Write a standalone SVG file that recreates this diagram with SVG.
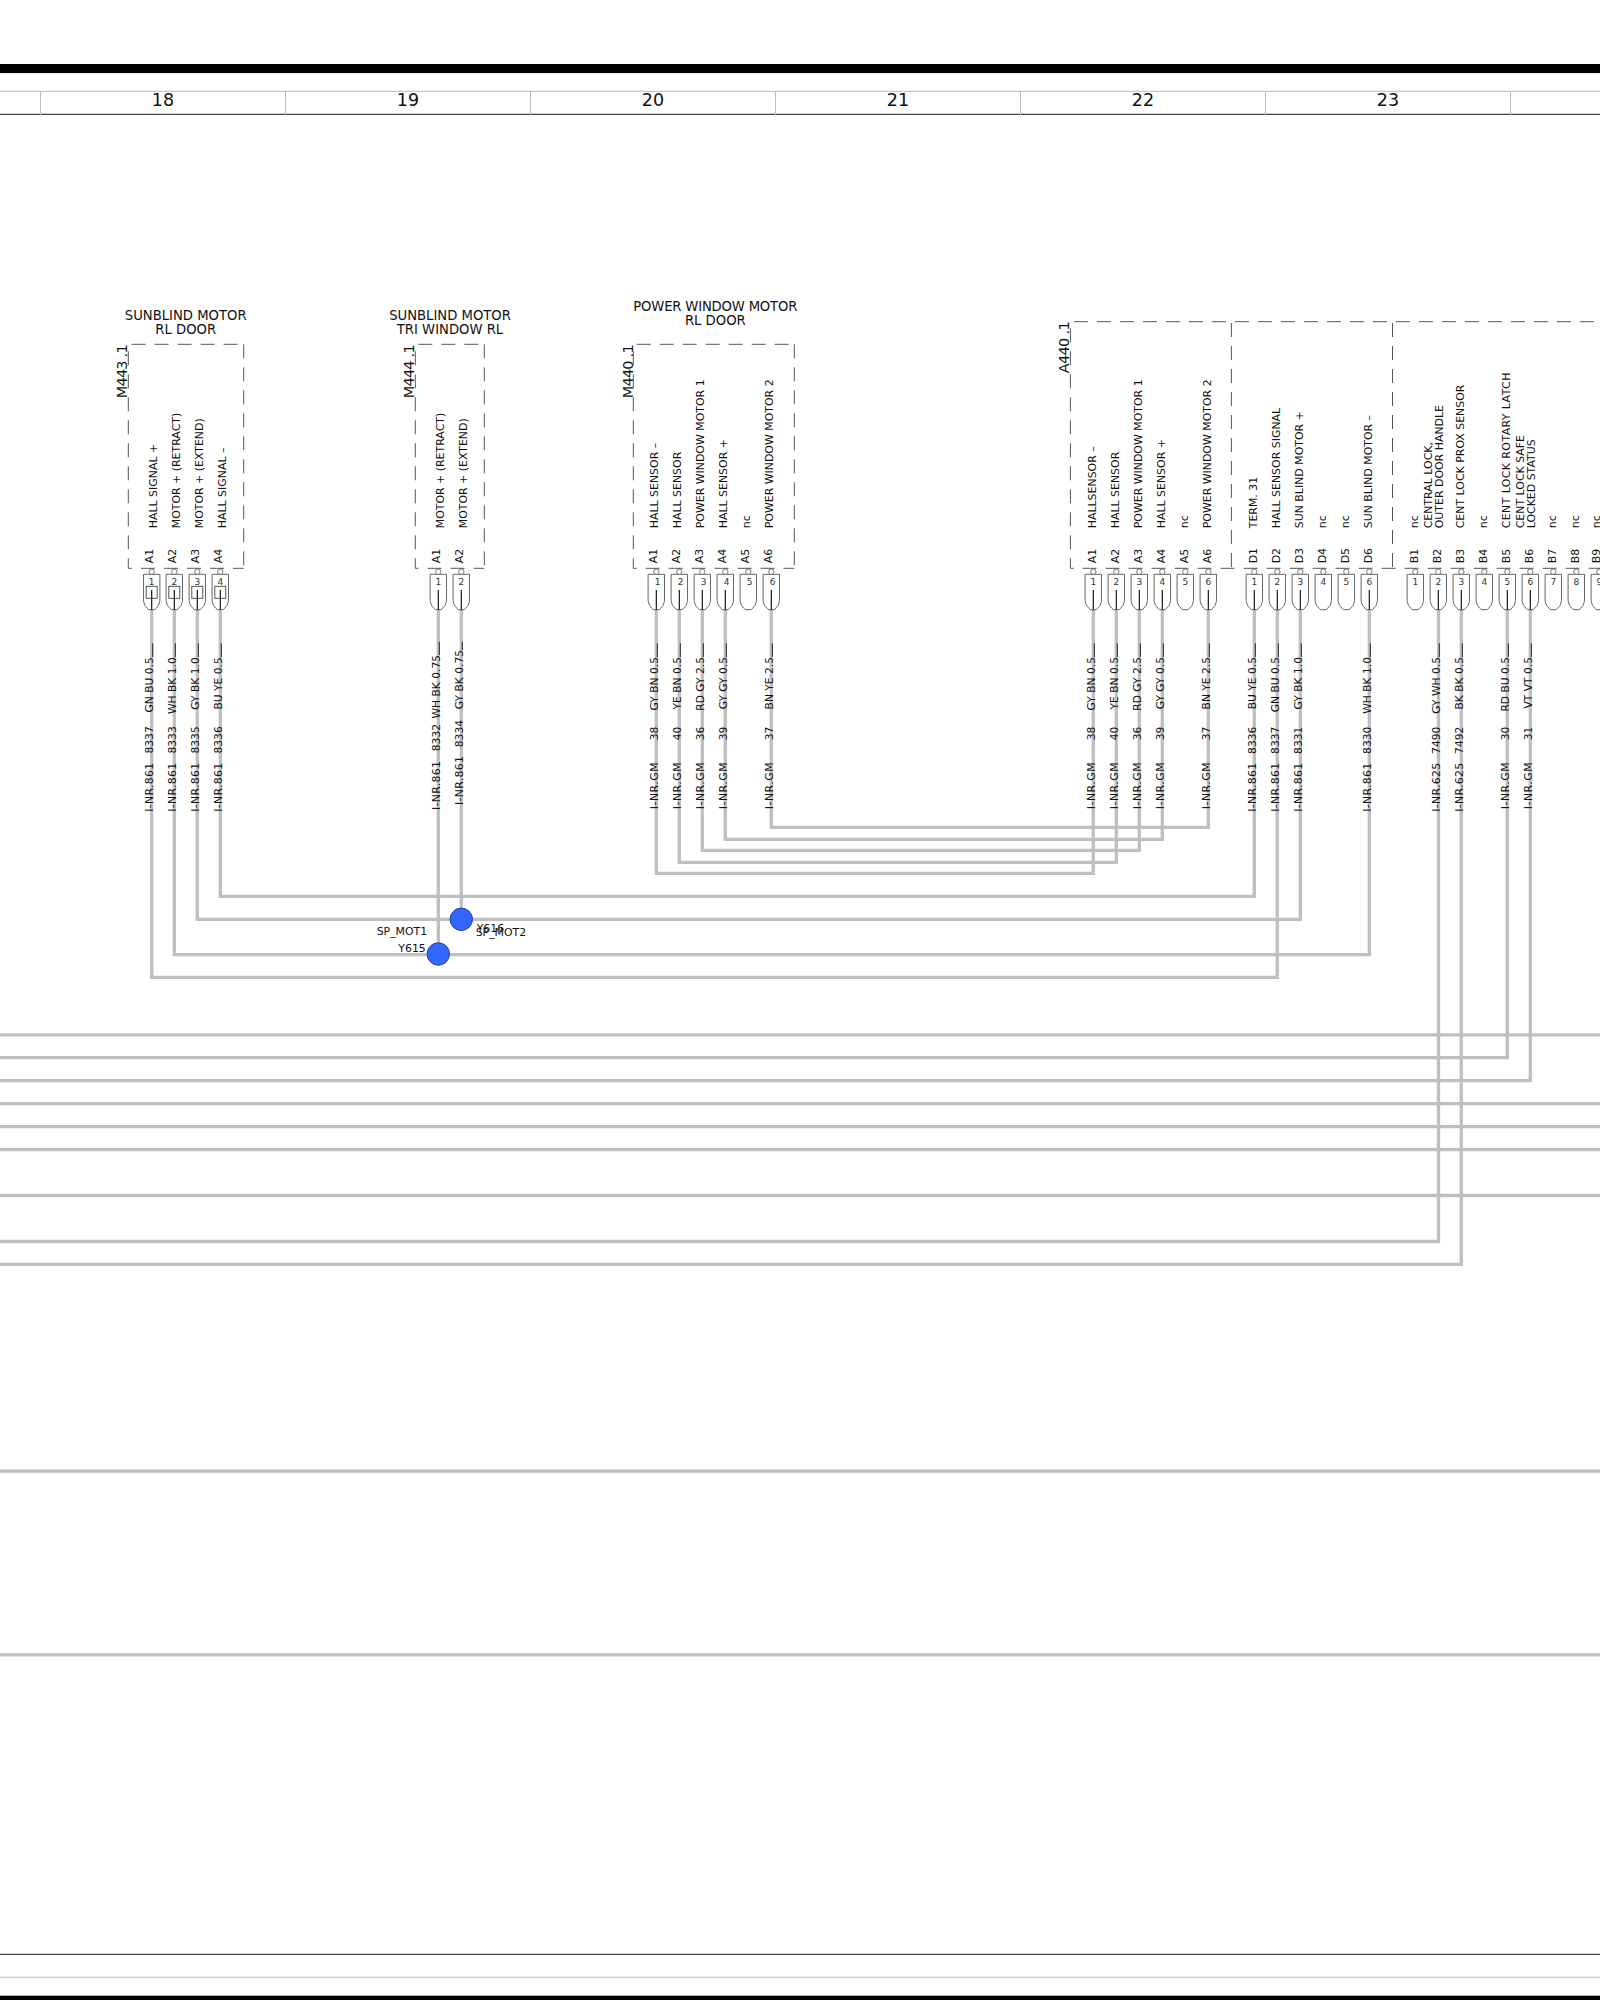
<svg xmlns="http://www.w3.org/2000/svg" width="1600" height="2000" viewBox="0 0 1600 2000">
<style>
text{font-family:"DejaVu Sans","Liberation Sans",sans-serif;fill:#111}
.t{font-size:13.2px;text-anchor:middle}
.r{font-size:14.5px}
.n{font-size:17.5px;text-anchor:middle}
.f{font-size:10.95px}
.e{font-size:10.7px;text-anchor:end}
.c{font-size:9px;text-anchor:middle;fill:#333}
.s{font-size:10.9px}
.w{fill:none;stroke:#bfbfbf;stroke-width:3.3}
.d{fill:none;stroke:#555;stroke-width:1;stroke-dasharray:14 9}
.g{stroke:#bbb;stroke-width:1;fill:none}
.k{stroke:#444;stroke-width:1.3;fill:none}
.cn{fill:#fff;stroke:#555;stroke-width:.9}
.pc{fill:#fff;stroke:#555;stroke-width:.8}
.in{stroke:#000;stroke-width:1.1}
.ti{stroke:#111;stroke-width:.9}
.sq{fill:none;stroke:#444;stroke-width:.9}
.dot{fill:#3366ff;stroke:#24409c;stroke-width:1}
</style>
<defs>
<path id="cb" d="M-8.2 574.3H8.2V600.7Q8.2 605.5 3 609.7H-3Q-8.2 605.5-8.2 600.7Z" class="cn"/>
<circle id="ci" cx="0" cy="571.7" r="2.7" class="pc"/>
<g id="p"><use href="#cb"/><use href="#ci"/></g>
<g id="pw"><use href="#p"/><line y1="590" y2="609.7" class="in"/></g>
<g id="tk"><line x1="1" x2="1" y1="643.3" y2="657" class="ti"/></g>
</defs>
<rect width="1600" height="2000" fill="#fff"/>

<g id="frame">
<rect x="0" y="64" width="1600" height="9" fill="#000"/>
<line x1="0" x2="1600" y1="73.7" y2="73.7" stroke="#ddd" stroke-width=".8"/>
<line x1="0" x2="1600" y1="91.3" y2="91.3" class="g"/>
<line x1="0" x2="1600" y1="114.3" y2="114.3" class="k"/>
<line x1="40.5" x2="40.5" y1="91" y2="115" class="g"/>
<line x1="285.5" x2="285.5" y1="91" y2="115" class="g"/>
<line x1="530.5" x2="530.5" y1="91" y2="115" class="g"/>
<line x1="775.5" x2="775.5" y1="91" y2="115" class="g"/>
<line x1="1020.5" x2="1020.5" y1="91" y2="115" class="g"/>
<line x1="1265.5" x2="1265.5" y1="91" y2="115" class="g"/>
<line x1="1510.5" x2="1510.5" y1="91" y2="115" class="g"/>
<text class="n" x="163" y="105.7">18</text>
<text class="n" x="408" y="105.7">19</text>
<text class="n" x="653" y="105.7">20</text>
<text class="n" x="898" y="105.7">21</text>
<text class="n" x="1143" y="105.7">22</text>
<text class="n" x="1388" y="105.7">23</text>
<line x1="0" x2="1600" y1="1954.3" y2="1954.3" class="k"/>
<line x1="0" x2="1600" y1="1977.3" y2="1977.3" class="g"/>
<rect x="0" y="1995.7" width="1600" height="4.3" fill="#000"/>
</g>

<g id="connectors">
<path class="w" d="M151.7 610V977.3H1277.3V610"/>
<path class="w" d="M174.3 610V954.7H1369.3V610"/>
<path class="w" d="M197.3 610V919.3H1300.3V610"/>
<path class="w" d="M220.3 610V896.3H1254.3V610"/>
<path class="w" d="M438.3 610V954"/>
<path class="w" d="M461.3 610V919"/>
<path class="w" d="M656.3 610V873.3H1093.3V610"/>
<path class="w" d="M679.3 610V862.3H1116.3V610"/>
<path class="w" d="M702.3 610V850.3H1139.3V610"/>
<path class="w" d="M725.3 610V839.3H1162.3V610"/>
<path class="w" d="M771.3 610V827.3H1208.3V610"/>
<path class="w" d="M1438.5 610V1241.5H0"/>
<path class="w" d="M1461.3 610V1264.4H0"/>
<path class="w" d="M1507.3 610V1057.7H0"/>
<path class="w" d="M1530.3 610V1080.7H0"/>
<path class="w" d="M0 1034.8H1600"/>
<path class="w" d="M0 1103.7H1600"/>
<path class="w" d="M0 1126.6H1600"/>
<path class="w" d="M0 1149.6H1600"/>
<path class="w" d="M0 1195.5H1600"/>
<path class="w" d="M0 1471.1H1600"/>
<path class="w" d="M0 1654.9H1600"/>
</g>

<g id="M443">
<text class="t" x="185.7" y="320">SUNBLIND MOTOR</text>
<text class="t" x="185.7" y="334">RL DOOR</text>
<text class="r" textLength="54" transform="translate(126.7 398.3) rotate(-90)">M443 .1</text>
<line class="d" x1="131.6" x2="243.7" y1="344.3" y2="344.3"/>
<line class="d" x1="128.3" x2="128.3" y1="568.3" y2="344.3" stroke-dashoffset="4"/>
<line class="d" x1="243.7" x2="243.7" y1="344.3" y2="568.3"/>
<line class="d" x1="128.3" x2="243.7" y1="568.3" y2="568.3" stroke-dashoffset="10.3"/>
<text class="f" transform="translate(157.4 528.3) rotate(-90)">HALL SIGNAL +</text>
<text class="f" transform="translate(180 528.3) rotate(-90)">MOTOR + (RETRACT)</text>
<text class="f" transform="translate(203 528.3) rotate(-90)">MOTOR + (EXTEND)</text>
<text class="f" transform="translate(226 528.3) rotate(-90)">HALL SIGNAL –</text>
<text class="f" transform="translate(153.4 563.3) rotate(-90)">A1</text>
<text class="f" transform="translate(176 563.3) rotate(-90)">A2</text>
<text class="f" transform="translate(199 563.3) rotate(-90)">A3</text>
<text class="f" transform="translate(222 563.3) rotate(-90)">A4</text>
<use href="#pw" x="151.7"/><use href="#pw" x="174.3"/><use href="#pw" x="197.3"/><use href="#pw" x="220.3"/>
<rect class="sq" x="146.2" y="586.3" width="11" height="12"/><rect class="sq" x="168.8" y="586.3" width="11" height="12"/><rect class="sq" x="191.8" y="586.3" width="11" height="12"/><rect class="sq" x="214.8" y="586.3" width="11" height="12"/>
<text class="c" x="151.7" y="585.3">1</text><text class="c" x="174.3" y="585.3">2</text><text class="c" x="197.3" y="585.3">3</text><text class="c" x="220.3" y="585.3">4</text>
<use href="#tk" x="151.7"/><use href="#tk" x="174.3"/><use href="#tk" x="197.3"/><use href="#tk" x="220.3"/>
<g>
<text class="f" textLength="49" transform="translate(153.4 811.7) rotate(-90)">I-NR.861</text><text class="e" transform="translate(153.4 726.3) rotate(-90)">8337</text><text class="e" transform="translate(153.4 657.3) rotate(-90)">GN BU 0.5</text>
<text class="f" textLength="49" transform="translate(176 811.7) rotate(-90)">I-NR.861</text><text class="e" transform="translate(176 726.3) rotate(-90)">8333</text><text class="e" transform="translate(176 657.3) rotate(-90)">WH BK 1.0</text>
<text class="f" textLength="49" transform="translate(199 811.7) rotate(-90)">I-NR.861</text><text class="e" transform="translate(199 726.3) rotate(-90)">8335</text><text class="e" transform="translate(199 657.3) rotate(-90)">GY BK 1.0</text>
<text class="f" textLength="49" transform="translate(222 811.7) rotate(-90)">I-NR.861</text><text class="e" transform="translate(222 726.3) rotate(-90)">8336</text><text class="e" transform="translate(222 657.3) rotate(-90)">BU YE 0.5</text>
</g>
</g>

<g id="M444">
<text class="t" x="450" y="320">SUNBLIND MOTOR</text>
<text class="t" x="450" y="334">TRI WINDOW RL</text>
<text class="r" textLength="54" transform="translate(414.3 398.3) rotate(-90)">M444 .1</text>
<line class="d" x1="418.3" x2="484.3" y1="344.3" y2="344.3"/>
<line class="d" x1="415.3" x2="415.3" y1="568.3" y2="344.3" stroke-dashoffset="4"/>
<line class="d" x1="484.3" x2="484.3" y1="344.3" y2="568.3"/>
<line class="d" x1="415.3" x2="484.3" y1="568.3" y2="568.3" stroke-dashoffset="10.7"/>
<text class="f" transform="translate(444 528.3) rotate(-90)">MOTOR + (RETRACT)</text>
<text class="f" transform="translate(467 528.3) rotate(-90)">MOTOR + (EXTEND)</text>
<text class="f" transform="translate(440 563.3) rotate(-90)">A1</text>
<text class="f" transform="translate(463 563.3) rotate(-90)">A2</text>
<use href="#pw" x="438.3"/><use href="#pw" x="461.3"/>
<text class="c" x="438.3" y="585.3">1</text><text class="c" x="461.3" y="585.3">2</text>
<line class="ti" x1="439.3" x2="439.3" y1="641.7" y2="655"/>
<line class="ti" x1="462.3" x2="462.3" y1="641.7" y2="650"/>
<text class="f" textLength="49" transform="translate(440 810) rotate(-90)">I-NR.861</text><text class="e" transform="translate(440 724) rotate(-90)">8332</text><text class="e" transform="translate(440 655) rotate(-90)">WH BK 0.75</text>
<text class="f" textLength="49" transform="translate(463 805) rotate(-90)">I-NR.861</text><text class="e" transform="translate(463 720) rotate(-90)">8334</text><text class="e" transform="translate(463 650) rotate(-90)">GY BK 0.75</text>
</g>

<g id="M440">
<text class="t" x="715.3" y="311" textLength="164">POWER WINDOW MOTOR</text>
<text class="t" x="715.3" y="325">RL DOOR</text>
<text class="r" textLength="54" transform="translate(632.7 398.3) rotate(-90)">M440 .1</text>
<line class="d" x1="636.7" x2="794.3" y1="344.3" y2="344.3"/>
<line class="d" x1="633.3" x2="633.3" y1="568.3" y2="344.3" stroke-dashoffset="4"/>
<line class="d" x1="794.3" x2="794.3" y1="344.3" y2="568.3"/>
<line class="d" x1="633.3" x2="794.3" y1="568.3" y2="568.3" stroke-dashoffset="10.7"/>
<text class="f" transform="translate(658.3 528.3) rotate(-90)">HALL SENSOR –</text>
<text class="f" transform="translate(681.3 528.3) rotate(-90)">HALL SENSOR</text>
<text class="f" transform="translate(704.3 528.3) rotate(-90)">POWER WINDOW MOTOR 1</text>
<text class="f" transform="translate(727.3 528.3) rotate(-90)">HALL SENSOR +</text>
<text class="f" transform="translate(750.3 528.3) rotate(-90)">nc</text>
<text class="f" transform="translate(773.3 528.3) rotate(-90)">POWER WINDOW MOTOR 2</text>
<text class="f" transform="translate(657 563.3) rotate(-90)">A1</text>
<text class="f" transform="translate(680 563.3) rotate(-90)">A2</text>
<text class="f" transform="translate(703 563.3) rotate(-90)">A3</text>
<text class="f" transform="translate(726 563.3) rotate(-90)">A4</text>
<text class="f" transform="translate(749 563.3) rotate(-90)">A5</text>
<text class="f" transform="translate(772 563.3) rotate(-90)">A6</text>
<use href="#pw" x="656.3"/><use href="#pw" x="679.3"/><use href="#pw" x="702.3"/><use href="#pw" x="725.3"/><use href="#p" x="748.3"/><use href="#pw" x="771.3"/>
<text class="c" x="657.5" y="585.3">1</text><text class="c" x="680.5" y="585.3">2</text><text class="c" x="703.5" y="585.3">3</text><text class="c" x="726.5" y="585.3">4</text><text class="c" x="749.5" y="585.3">5</text><text class="c" x="772.5" y="585.3">6</text>
<use href="#tk" x="656.3"/><use href="#tk" x="679.3"/><use href="#tk" x="702.3"/><use href="#tk" x="725.3"/><use href="#tk" x="771.3"/>
<text class="f" textLength="47" transform="translate(658 809.3) rotate(-90)">I-NR.GM</text><text class="e" transform="translate(658 726.7) rotate(-90)">38</text><text class="e" transform="translate(658 657) rotate(-90)">GY BN 0.5</text>
<text class="f" textLength="47" transform="translate(681 809.3) rotate(-90)">I-NR.GM</text><text class="e" transform="translate(681 726.7) rotate(-90)">40</text><text class="e" transform="translate(681 657) rotate(-90)">YE BN 0.5</text>
<text class="f" textLength="47" transform="translate(704 809.3) rotate(-90)">I-NR.GM</text><text class="e" transform="translate(704 726.7) rotate(-90)">36</text><text class="e" transform="translate(704 657) rotate(-90)">RD GY 2.5</text>
<text class="f" textLength="47" transform="translate(727 809.3) rotate(-90)">I-NR.GM</text><text class="e" transform="translate(727 726.7) rotate(-90)">39</text><text class="e" transform="translate(727 657) rotate(-90)">GY GY 0.5</text>
<text class="f" textLength="47" transform="translate(773 809.3) rotate(-90)">I-NR.GM</text><text class="e" transform="translate(773 726.7) rotate(-90)">37</text><text class="e" transform="translate(773 657) rotate(-90)">BN YE 2.5</text>
</g>

<g id="A440">
<text class="r" textLength="52" transform="translate(1069.3 373.3) rotate(-90)">A440 .1</text>
<line class="d" x1="1073.9" x2="1600" y1="321.7" y2="321.7"/>
<line class="d" x1="1070.4" x2="1070.4" y1="568.3" y2="323" stroke-dashoffset="4"/>
<line class="d" x1="1231.4" x2="1231.4" y1="323" y2="568.3"/>
<line class="d" x1="1392.5" x2="1392.5" y1="323" y2="568.3"/>
<line class="d" x1="1070.4" x2="1600" y1="568.3" y2="568.3" stroke-dashoffset="10.8"/>
<text class="f" transform="translate(1096 528.3) rotate(-90)">HALLSENSOR –</text>
<text class="f" transform="translate(1119 528.3) rotate(-90)">HALL SENSOR</text>
<text class="f" transform="translate(1142 528.3) rotate(-90)">POWER WINDOW MOTOR 1</text>
<text class="f" transform="translate(1165 528.3) rotate(-90)">HALL SENSOR +</text>
<text class="f" transform="translate(1188 528.3) rotate(-90)">nc</text>
<text class="f" transform="translate(1211 528.3) rotate(-90)">POWER WINDOW MOTOR 2</text>
<text class="f" transform="translate(1257 528.3) rotate(-90)">TERM. 31</text>
<text class="f" transform="translate(1280 528.3) rotate(-90)">HALL SENSOR SIGNAL</text>
<text class="f" transform="translate(1303 528.3) rotate(-90)">SUN BLIND MOTOR +</text>
<text class="f" transform="translate(1326 528.3) rotate(-90)">nc</text>
<text class="f" transform="translate(1349 528.3) rotate(-90)">nc</text>
<text class="f" transform="translate(1372 528.3) rotate(-90)">SUN BLIND MOTOR –</text>
<text class="f" transform="translate(1418 528.3) rotate(-90)">nc</text>
<text class="f" transform="translate(1432 528.3) rotate(-90)">CENTRAL LOCK,</text>
<text class="f" transform="translate(1442.5 528.3) rotate(-90)">OUTER DOOR HANDLE</text>
<text class="f" transform="translate(1464 528.3) rotate(-90)">CENT LOCK PROX SENSOR</text>
<text class="f" transform="translate(1487 528.3) rotate(-90)">nc</text>
<text class="f" textLength="155.7" transform="translate(1509.6 528.3) rotate(-90)">CENT LOCK ROTARY LATCH</text>
<text class="f" transform="translate(1524 528.3) rotate(-90)">CENT LOCK SAFE</text>
<text class="f" transform="translate(1534.5 528.3) rotate(-90)">LOCKED STATUS</text>
<text class="f" transform="translate(1556 528.3) rotate(-90)">nc</text>
<text class="f" transform="translate(1579 528.3) rotate(-90)">nc</text>
<text class="f" transform="translate(1600 528.3) rotate(-90)">nc</text>
<text class="f" transform="translate(1096.3 563.3) rotate(-90)">A1</text>
<text class="f" transform="translate(1119.3 563.3) rotate(-90)">A2</text>
<text class="f" transform="translate(1142.3 563.3) rotate(-90)">A3</text>
<text class="f" transform="translate(1165.3 563.3) rotate(-90)">A4</text>
<text class="f" transform="translate(1188.3 563.3) rotate(-90)">A5</text>
<text class="f" transform="translate(1211.3 563.3) rotate(-90)">A6</text>
<text class="f" transform="translate(1257 563.3) rotate(-90)">D1</text>
<text class="f" transform="translate(1280 563.3) rotate(-90)">D2</text>
<text class="f" transform="translate(1303 563.3) rotate(-90)">D3</text>
<text class="f" transform="translate(1326 563.3) rotate(-90)">D4</text>
<text class="f" transform="translate(1349 563.3) rotate(-90)">D5</text>
<text class="f" transform="translate(1372 563.3) rotate(-90)">D6</text>
<text class="f" transform="translate(1418 563.3) rotate(-90)">B1</text>
<text class="f" transform="translate(1441 563.3) rotate(-90)">B2</text>
<text class="f" transform="translate(1464 563.3) rotate(-90)">B3</text>
<text class="f" transform="translate(1487 563.3) rotate(-90)">B4</text>
<text class="f" transform="translate(1510 563.3) rotate(-90)">B5</text>
<text class="f" transform="translate(1533 563.3) rotate(-90)">B6</text>
<text class="f" transform="translate(1556 563.3) rotate(-90)">B7</text>
<text class="f" transform="translate(1579 563.3) rotate(-90)">B8</text>
<text class="f" transform="translate(1600 563.3) rotate(-90)">B9</text>
<use href="#pw" x="1093.3"/><use href="#pw" x="1116.3"/><use href="#pw" x="1139.3"/><use href="#pw" x="1162.3"/><use href="#p" x="1185.3"/><use href="#pw" x="1208.3"/>
<use href="#pw" x="1254.3"/><use href="#pw" x="1277.3"/><use href="#pw" x="1300.3"/><use href="#p" x="1323.3"/><use href="#p" x="1346.3"/><use href="#pw" x="1369.3"/>
<use href="#p" x="1415.3"/><use href="#pw" x="1438.3"/><use href="#pw" x="1461.3"/><use href="#p" x="1484.3"/><use href="#pw" x="1507.3"/><use href="#pw" x="1530.3"/><use href="#p" x="1553.3"/><use href="#p" x="1576.3"/><use href="#p" x="1599.3"/>
<text class="c" x="1093.3" y="585.3">1</text><text class="c" x="1116.3" y="585.3">2</text><text class="c" x="1139.3" y="585.3">3</text><text class="c" x="1162.3" y="585.3">4</text><text class="c" x="1185.3" y="585.3">5</text><text class="c" x="1208.3" y="585.3">6</text>
<text class="c" x="1254.3" y="585.3">1</text><text class="c" x="1277.3" y="585.3">2</text><text class="c" x="1300.3" y="585.3">3</text><text class="c" x="1323.3" y="585.3">4</text><text class="c" x="1346.3" y="585.3">5</text><text class="c" x="1369.3" y="585.3">6</text>
<text class="c" x="1415.3" y="585.3">1</text><text class="c" x="1438.3" y="585.3">2</text><text class="c" x="1461.3" y="585.3">3</text><text class="c" x="1484.3" y="585.3">4</text><text class="c" x="1507.3" y="585.3">5</text><text class="c" x="1530.3" y="585.3">6</text><text class="c" x="1553.3" y="585.3">7</text><text class="c" x="1576.3" y="585.3">8</text><text class="c" x="1599.3" y="585.3">9</text>
<use href="#tk" x="1093.3"/><use href="#tk" x="1116.3"/><use href="#tk" x="1139.3"/><use href="#tk" x="1162.3"/><use href="#tk" x="1208.3"/><use href="#tk" x="1254.3"/><use href="#tk" x="1277.3"/><use href="#tk" x="1300.3"/><use href="#tk" x="1369.3"/><use href="#tk" x="1438.3"/><use href="#tk" x="1461.3"/><use href="#tk" x="1507.3"/><use href="#tk" x="1530.3"/>
<text class="f" textLength="47" transform="translate(1095 809.3) rotate(-90)">I-NR.GM</text><text class="e" transform="translate(1095 726.7) rotate(-90)">38</text><text class="e" transform="translate(1095 657) rotate(-90)">GY BN 0.5</text>
<text class="f" textLength="47" transform="translate(1118 809.3) rotate(-90)">I-NR.GM</text><text class="e" transform="translate(1118 726.7) rotate(-90)">40</text><text class="e" transform="translate(1118 657) rotate(-90)">YE BN 0.5</text>
<text class="f" textLength="47" transform="translate(1141 809.3) rotate(-90)">I-NR.GM</text><text class="e" transform="translate(1141 726.7) rotate(-90)">36</text><text class="e" transform="translate(1141 657) rotate(-90)">RD GY 2.5</text>
<text class="f" textLength="47" transform="translate(1164 809.3) rotate(-90)">I-NR.GM</text><text class="e" transform="translate(1164 726.7) rotate(-90)">39</text><text class="e" transform="translate(1164 657) rotate(-90)">GY GY 0.5</text>
<text class="f" textLength="47" transform="translate(1210 809.3) rotate(-90)">I-NR.GM</text><text class="e" transform="translate(1210 726.7) rotate(-90)">37</text><text class="e" transform="translate(1210 657) rotate(-90)">BN YE 2.5</text>
<text class="f" textLength="49" transform="translate(1256 811.7) rotate(-90)">I-NR.861</text><text class="e" transform="translate(1256 726.7) rotate(-90)">8336</text><text class="e" transform="translate(1256 657) rotate(-90)">BU YE 0.5</text>
<text class="f" textLength="49" transform="translate(1279 811.7) rotate(-90)">I-NR.861</text><text class="e" transform="translate(1279 726.7) rotate(-90)">8337</text><text class="e" transform="translate(1279 657) rotate(-90)">GN BU 0.5</text>
<text class="f" textLength="49" transform="translate(1302 811.7) rotate(-90)">I-NR.861</text><text class="e" transform="translate(1302 726.7) rotate(-90)">8331</text><text class="e" transform="translate(1302 657) rotate(-90)">GY BK 1.0</text>
<text class="f" textLength="49" transform="translate(1371 811.7) rotate(-90)">I-NR.861</text><text class="e" transform="translate(1371 726.7) rotate(-90)">8330</text><text class="e" transform="translate(1371 657) rotate(-90)">WH BK 1.0</text>
<text class="f" textLength="49" transform="translate(1440 811.7) rotate(-90)">I-NR.625</text><text class="e" transform="translate(1440 726.7) rotate(-90)">7490</text><text class="e" transform="translate(1440 657) rotate(-90)">GY WH 0.5</text>
<text class="f" textLength="49" transform="translate(1463 811.7) rotate(-90)">I-NR.625</text><text class="e" transform="translate(1463 726.7) rotate(-90)">7492</text><text class="e" transform="translate(1463 657) rotate(-90)">BK BK 0.5</text>
<text class="f" textLength="47" transform="translate(1509 809.3) rotate(-90)">I-NR.GM</text><text class="e" transform="translate(1509 726.7) rotate(-90)">30</text><text class="e" transform="translate(1509 657) rotate(-90)">RD BU 0.5</text>
<text class="f" textLength="47" transform="translate(1532 809.3) rotate(-90)">I-NR.GM</text><text class="e" transform="translate(1532 726.7) rotate(-90)">31</text><text class="e" transform="translate(1532 657) rotate(-90)">VT VT 0.5</text>
</g>

<g id="Y615">
<circle class="dot" cx="438.3" cy="954" r="11.2"/>
<text class="s" x="376.7" y="935">SP_MOT1</text>
<text class="s" x="398.3" y="952.3">Y615</text>
</g>
<g id="Y616">
<circle class="dot" cx="461.3" cy="919.3" r="11.2"/>
<text class="s" x="476.7" y="931.7">Y616</text>
<text class="s" x="475.7" y="936">SP_MOT2</text>
</g>
</svg>
